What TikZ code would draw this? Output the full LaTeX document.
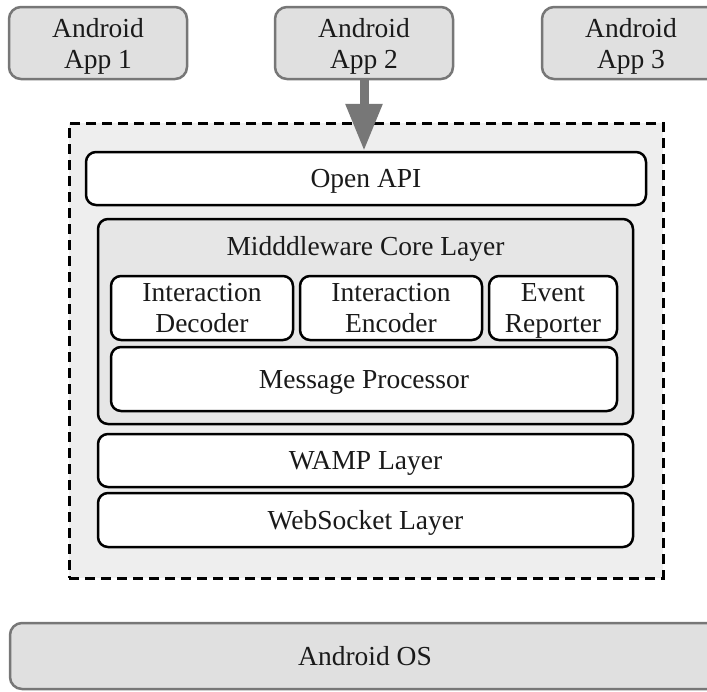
\documentclass[tikz,border=0pt]{standalone}
\usepackage{fontspec}
\setmainfont{Liberation Serif}
\usetikzlibrary{arrows.meta}
\definecolor{appfill}{HTML}{E0E0E0}
\definecolor{appline}{HTML}{777777}
\definecolor{framefill}{HTML}{EEEEEE}
\definecolor{corefill}{HTML}{E6E6E6}
\definecolor{arrowgray}{HTML}{777777}
\definecolor{txtcol}{HTML}{1A1A1A}
\begin{document}
\begin{tikzpicture}[x=1pt,y=-1pt,
  box/.style={rounded corners=10pt, line width=2.5pt, inner sep=0pt, align=center,
    text=txtcol, text depth=0pt, font=\fontsize{27.5}{31}\selectfont},
  appbox/.style={box, draw=appline, fill=appfill, rounded corners=12pt,
    minimum width=178pt, minimum height=72pt},
  layerbox/.style={box, draw=black, fill=white},
  corebox/.style={box, draw=black, fill=corefill},
  framebox/.style={draw=black, fill=framefill, line width=3pt, dash pattern=on 10pt off 6pt, inner sep=0pt},
  lbl/.style={text=txtcol, text depth=0pt, font=\fontsize{27.5}{31}\selectfont, inner sep=0pt}
]
\useasboundingbox (0,0) rectangle (707,691);
\clip (0,0) rectangle (707,691);

% apps
\node[appbox] (app1) at (98,43) {Android\\App 1};
\node[appbox] (app2) at (364,43) {Android\\App 2};
\node[appbox] (app3) at (631,43) {Android\\App 3};

% middleware frame
\node[framebox, minimum width=594pt, minimum height=455pt] (frame) at (366,350.5) {};

\node[layerbox, minimum width=560pt, minimum height=53pt] (openapi) at (366,178.5) {Open API};

\node[corebox, minimum width=535pt, minimum height=205pt] (core) at (365.5,321.5) {};
\node[lbl] (coretitle) at (365.5,246) {Midddleware Core Layer};

\node[layerbox, minimum width=182pt, minimum height=64pt] (decoder) at (202,308) {Interaction\\Decoder};
\node[layerbox, minimum width=182pt, minimum height=64pt] (encoder) at (391,308) {Interaction\\Encoder};
\node[layerbox, minimum width=128pt, minimum height=64pt] (event) at (553,308) {Event\\Reporter};
\node[layerbox, minimum width=506pt, minimum height=64pt] (message) at (364,379) {Message Processor};

\node[layerbox, minimum width=535pt, minimum height=53pt] (wamp) at (365.5,460.5) {WAMP Layer};
\node[layerbox, minimum width=535pt, minimum height=54pt] (websocket) at (365.5,520) {WebSocket Layer};

% OS
\node[appbox, minimum width=710pt, minimum height=66pt] (os) at (365,656) {Android OS};

% arrow
\draw[line width=9pt, draw=arrowgray, -{Triangle[width=35pt,length=47pt,fill=arrowgray]}]
  (app2.south) -- (app2.south |- openapi.north);
\end{tikzpicture}
\end{document}
